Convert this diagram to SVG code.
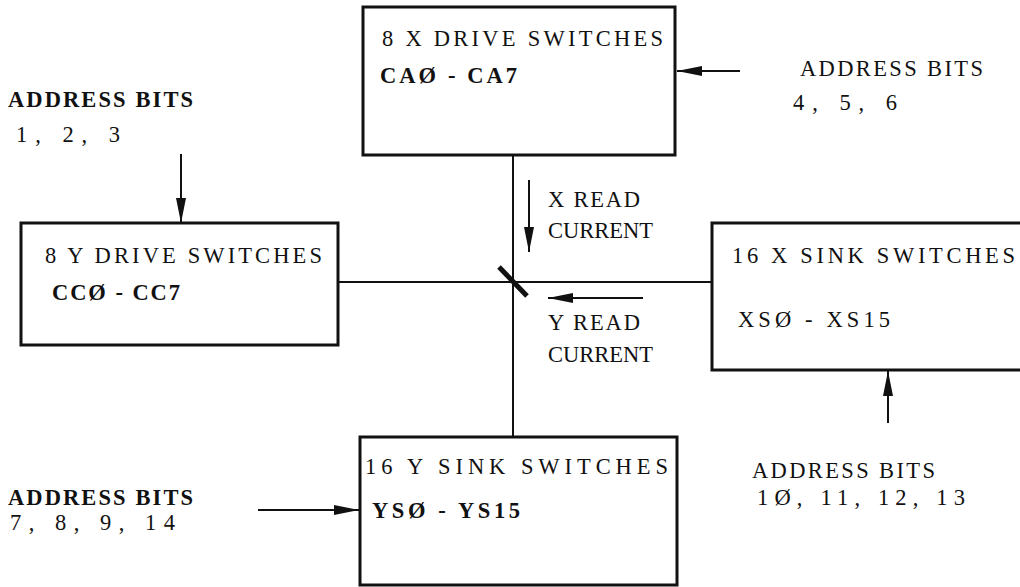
<svg xmlns="http://www.w3.org/2000/svg" width="1020" height="587" viewBox="0 0 1020 587">
<defs>
<style>
.box{fill:#fff;stroke:#111;stroke-width:3}
.ln{stroke:#111;stroke-width:2;fill:none}
.t{font-family:"Liberation Serif","Times New Roman",serif;font-size:22.5px;fill:#111}
.b{font-weight:bold}
</style>
<marker id="ah2" markerWidth="26" markerHeight="12" refX="25" refY="6" orient="auto" markerUnits="userSpaceOnUse">
<path d="M0,1 L25,6 L0,11 Z" fill="#111"/>
</marker>
</defs>
<rect width="1020" height="587" fill="#fff"/>
<g id="connectors">
<line class="ln" x1="338" y1="282" x2="712" y2="282"/>
<line class="ln" x1="513" y1="155" x2="513" y2="437"/>
<line x1="499" y1="267" x2="527" y2="296" stroke="#111" stroke-width="5"/>
<line class="ln" x1="740" y1="71" x2="677" y2="71" marker-end="url(#ah2)"/>
<line class="ln" x1="181" y1="154" x2="181" y2="223" marker-end="url(#ah2)"/>
<line class="ln" x1="888" y1="423" x2="888" y2="371" marker-end="url(#ah2)"/>
<line class="ln" x1="258" y1="510" x2="359" y2="510" marker-end="url(#ah2)"/>
<line class="ln" x1="529" y1="180" x2="529" y2="252" marker-end="url(#ah2)"/>
<line class="ln" x1="643" y1="298" x2="548" y2="298" marker-end="url(#ah2)"/>
</g>
<g id="x-drive">
<rect class="box" x="363" y="7" width="312" height="148"/>
<text class="t" x="382" y="46" textLength="281" lengthAdjust="spacing">8 X DRIVE SWITCHES</text>
<text class="t b" x="380" y="83" textLength="137" lengthAdjust="spacing">CAØ - CA7</text>
</g>
<g id="y-drive">
<rect class="box" x="21" y="223" width="317" height="122"/>
<text class="t" x="45" y="263" textLength="277" lengthAdjust="spacing">8 Y DRIVE SWITCHES</text>
<text class="t b" x="52" y="300" textLength="128" lengthAdjust="spacing">CCØ - CC7</text>
</g>
<g id="x-sink">
<rect class="box" x="712" y="223" width="310" height="147"/>
<text class="t" x="732" y="263" textLength="283" lengthAdjust="spacing">16 X SINK SWITCHES</text>
<text class="t" x="738" y="327" textLength="152" lengthAdjust="spacing">XSØ - XS15</text>
</g>
<g id="y-sink">
<rect class="box" x="360" y="437" width="317" height="148"/>
<text class="t" x="365" y="474" textLength="303" lengthAdjust="spacing">16 Y SINK SWITCHES</text>
<text class="t b" x="372" y="518" textLength="148" lengthAdjust="spacing">YSØ - YS15</text>
</g>
<g id="labels">
<text class="t b" x="8" y="107" textLength="185" lengthAdjust="spacing">ADDRESS BITS</text>
<text class="t" x="16" y="142" textLength="104" lengthAdjust="spacing">1, 2, 3</text>
<text class="t" x="800" y="76" textLength="183" lengthAdjust="spacing">ADDRESS BITS</text>
<text class="t" x="793" y="110" textLength="104" lengthAdjust="spacing">4, 5, 6</text>
<text class="t" x="548" y="207" textLength="92" lengthAdjust="spacing">X READ</text>
<text class="t" x="548" y="238" textLength="105" lengthAdjust="spacing">CURRENT</text>
<text class="t" x="548" y="330" textLength="92" lengthAdjust="spacing">Y READ</text>
<text class="t" x="548" y="362" textLength="105" lengthAdjust="spacing">CURRENT</text>
<text class="t" x="752" y="478" textLength="183" lengthAdjust="spacing">ADDRESS BITS</text>
<text class="t" x="757" y="505" textLength="208" lengthAdjust="spacing">1Ø, 11, 12, 13</text>
<text class="t b" x="8" y="505" textLength="185" lengthAdjust="spacing">ADDRESS BITS</text>
<text class="t" x="10" y="530" textLength="165" lengthAdjust="spacing">7, 8, 9, 14</text>
</g>
</svg>
